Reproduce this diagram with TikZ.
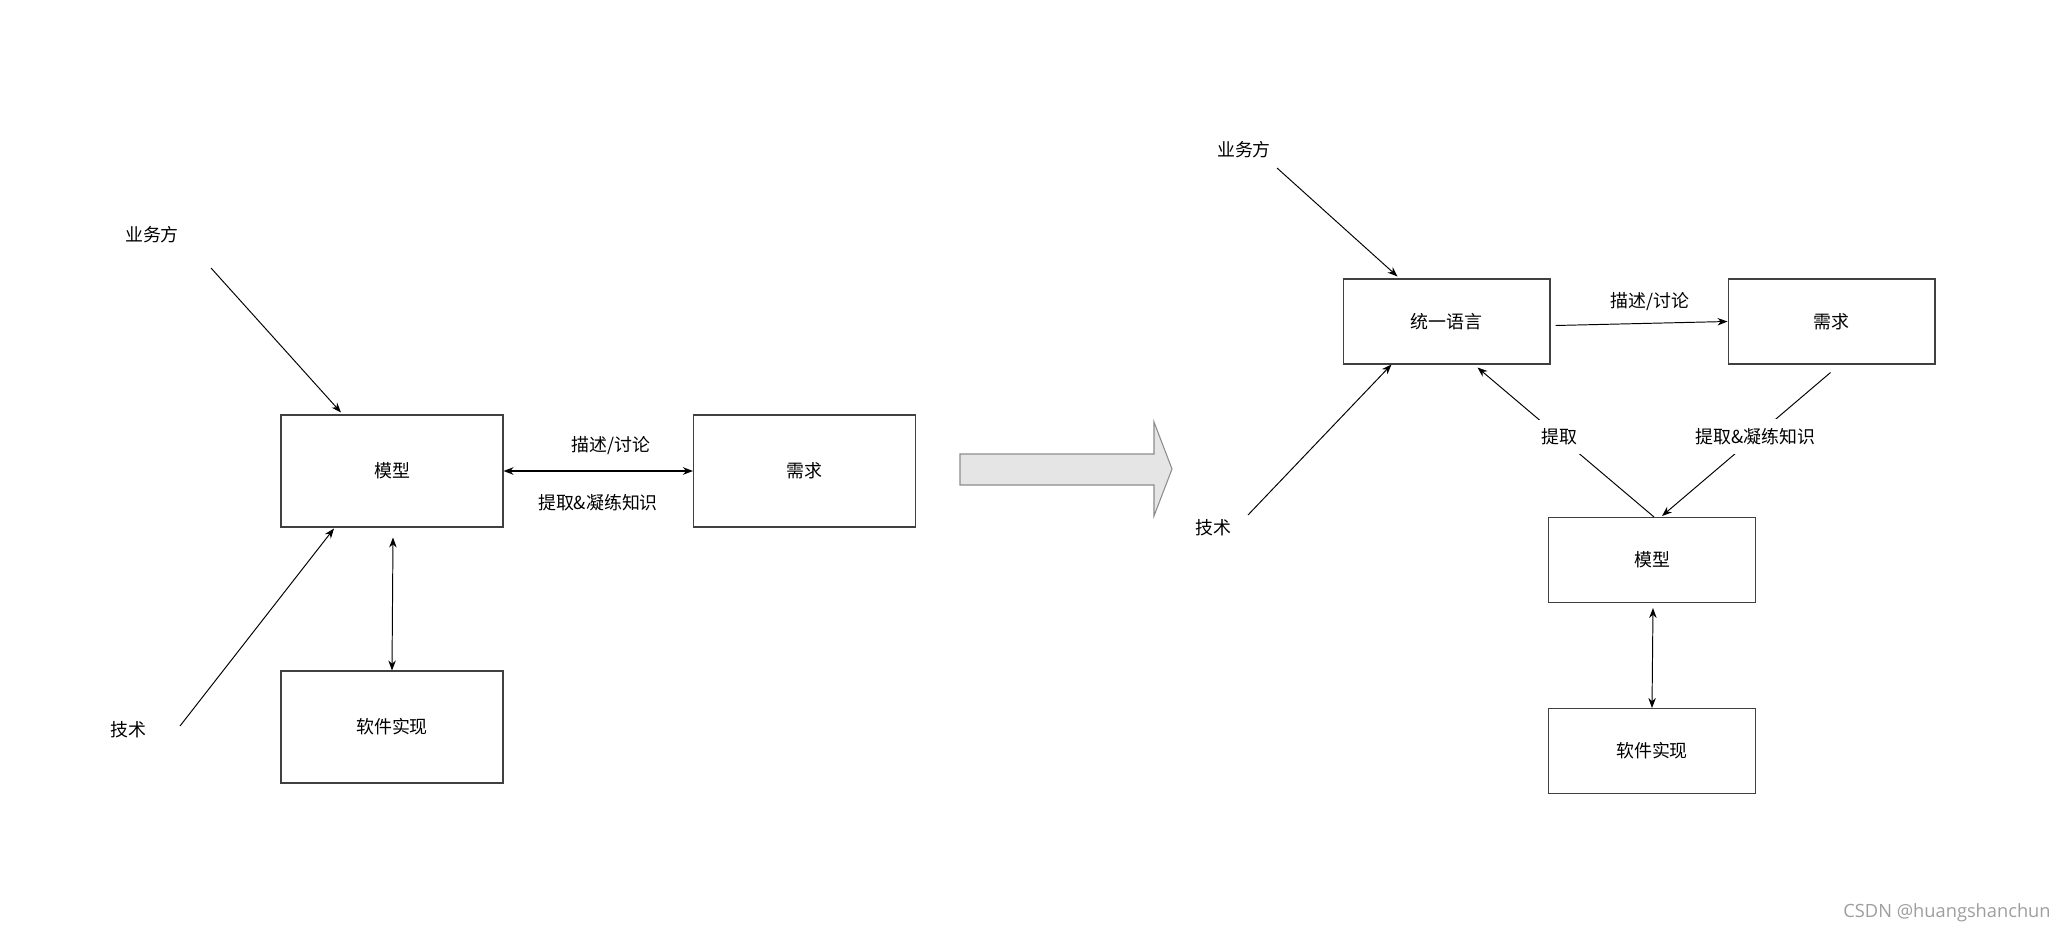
\documentclass[tikz,border=0pt]{standalone}
\usepackage{fontspec}
\usepackage{tikz}
\usetikzlibrary{positioning,arrows.meta,calc}
\newfontfamily\cjk{Noto Sans CJK SC}
\newfontfamily\wmfont{Open Sans}

\begin{document}
\begin{tikzpicture}[x=0.02cm, y=-0.02cm, >={Stealth[length=0.2cm,width=0.15cm]},
  every node/.style={font={\cjk\fontsize{10.2pt}{12pt}\selectfont}, align=center},
  box/.style={draw=black!75, line width=0.6pt},
  conn/.style={line width=0.55pt},
  gap/.style={fill=white, inner xsep=0.08cm, inner ysep=0.18cm}]
  \def\bwl{4.44cm}
  \def\bhl{2.24cm}
  \def\bwr{4.14cm}
  \def\bhr{1.7cm}

  \useasboundingbox (0,0) rectangle (2070,936);

  % before
  \node[box, minimum width=\bwl, minimum height=\bhl] (mdlL) at (392,471) {模型};
  \node[box, minimum width=\bwl, minimum height=\bhl] (reqL) at (804.5,471) {需求};
  \node[box, minimum width=\bwl, minimum height=\bhl] (implL) at (392,727) {软件实现};
  \node (bizL) at (152,235) {业务方};
  \node (techL) at (128,730) {技术};
  \node (talkL) at (611,446) {描述/讨论};
  \node (distL) at (598,503) {提取\&凝练知识};
  \coordinate (bizLtail) at (211,268);
  \coordinate (techLtail) at (180,726);

  \draw[->, conn] (bizLtail) -- ($(mdlL.north)+(-51,-2)$);
  \draw[->, conn] (techLtail) -- ($(mdlL.south)+(-58,1)$);
  \draw[<->, line width=1.1pt] (mdlL) -- (reqL);
  \draw[<->, conn] ($(mdlL.south)+(1,10)$) -- (implL.north);

  % big arrow
  \draw[draw=black!45, fill=black!10, line width=0.6pt]
    (960,454) -- (1154,454) -- (1154,422) -- (1172,469)
    -- (1154,516) -- (1154,485) -- (960,485) -- cycle;

  % after
  \node[box, minimum width=\bwr, minimum height=\bhr] (langR) at (1446.5,321.5) {统一语言};
  \node[box, minimum width=\bwr, minimum height=\bhr] (reqR) at (1831.5,321.5) {需求};
  \node[box, minimum width=\bwr, minimum height=\bhr] (mdlR) at (1652,560) {模型};
  \node[box, minimum width=\bwr, minimum height=\bhr] (implR) at (1652,751) {软件实现};
  \node (bizR) at (1244,150) {业务方};
  \node (techR) at (1213,528) {技术};
  \node (talkR) at (1650,302) {描述/讨论};
  \coordinate (bizRtail) at (1277,168);
  \coordinate (techRtail) at (1248,515);

  \draw[->, conn] (bizRtail) -- ($(langR.north)+(-49,-2)$);
  \draw[->, conn] (techRtail) -- ($(langR.south)+(-55,0)$);
  \draw[->, conn] ($(langR.east)+(5,4)$) -- (reqR.west);
  \draw[->, conn] ($(mdlR.north)+(2,0)$)
    -- node[gap, pos=0.535] (pickR) {提取} ($(langR.south)+(31,3)$);
  \draw[->, conn] ($(reqR.south)+(-1,8)$)
    -- node[gap, pos=0.444] (distR) {提取\&凝练知识} ($(mdlR.north)+(10,-1)$);
  \draw[<->, conn] ($(mdlR.south)+(1,5)$) -- (implR.north);

  \node[font={\wmfont\fontsize{10.4pt}{12pt}\selectfont}, text=black!38] (mark) at (1947,913) {CSDN @huangshanchun};
\end{tikzpicture}
\end{document}
